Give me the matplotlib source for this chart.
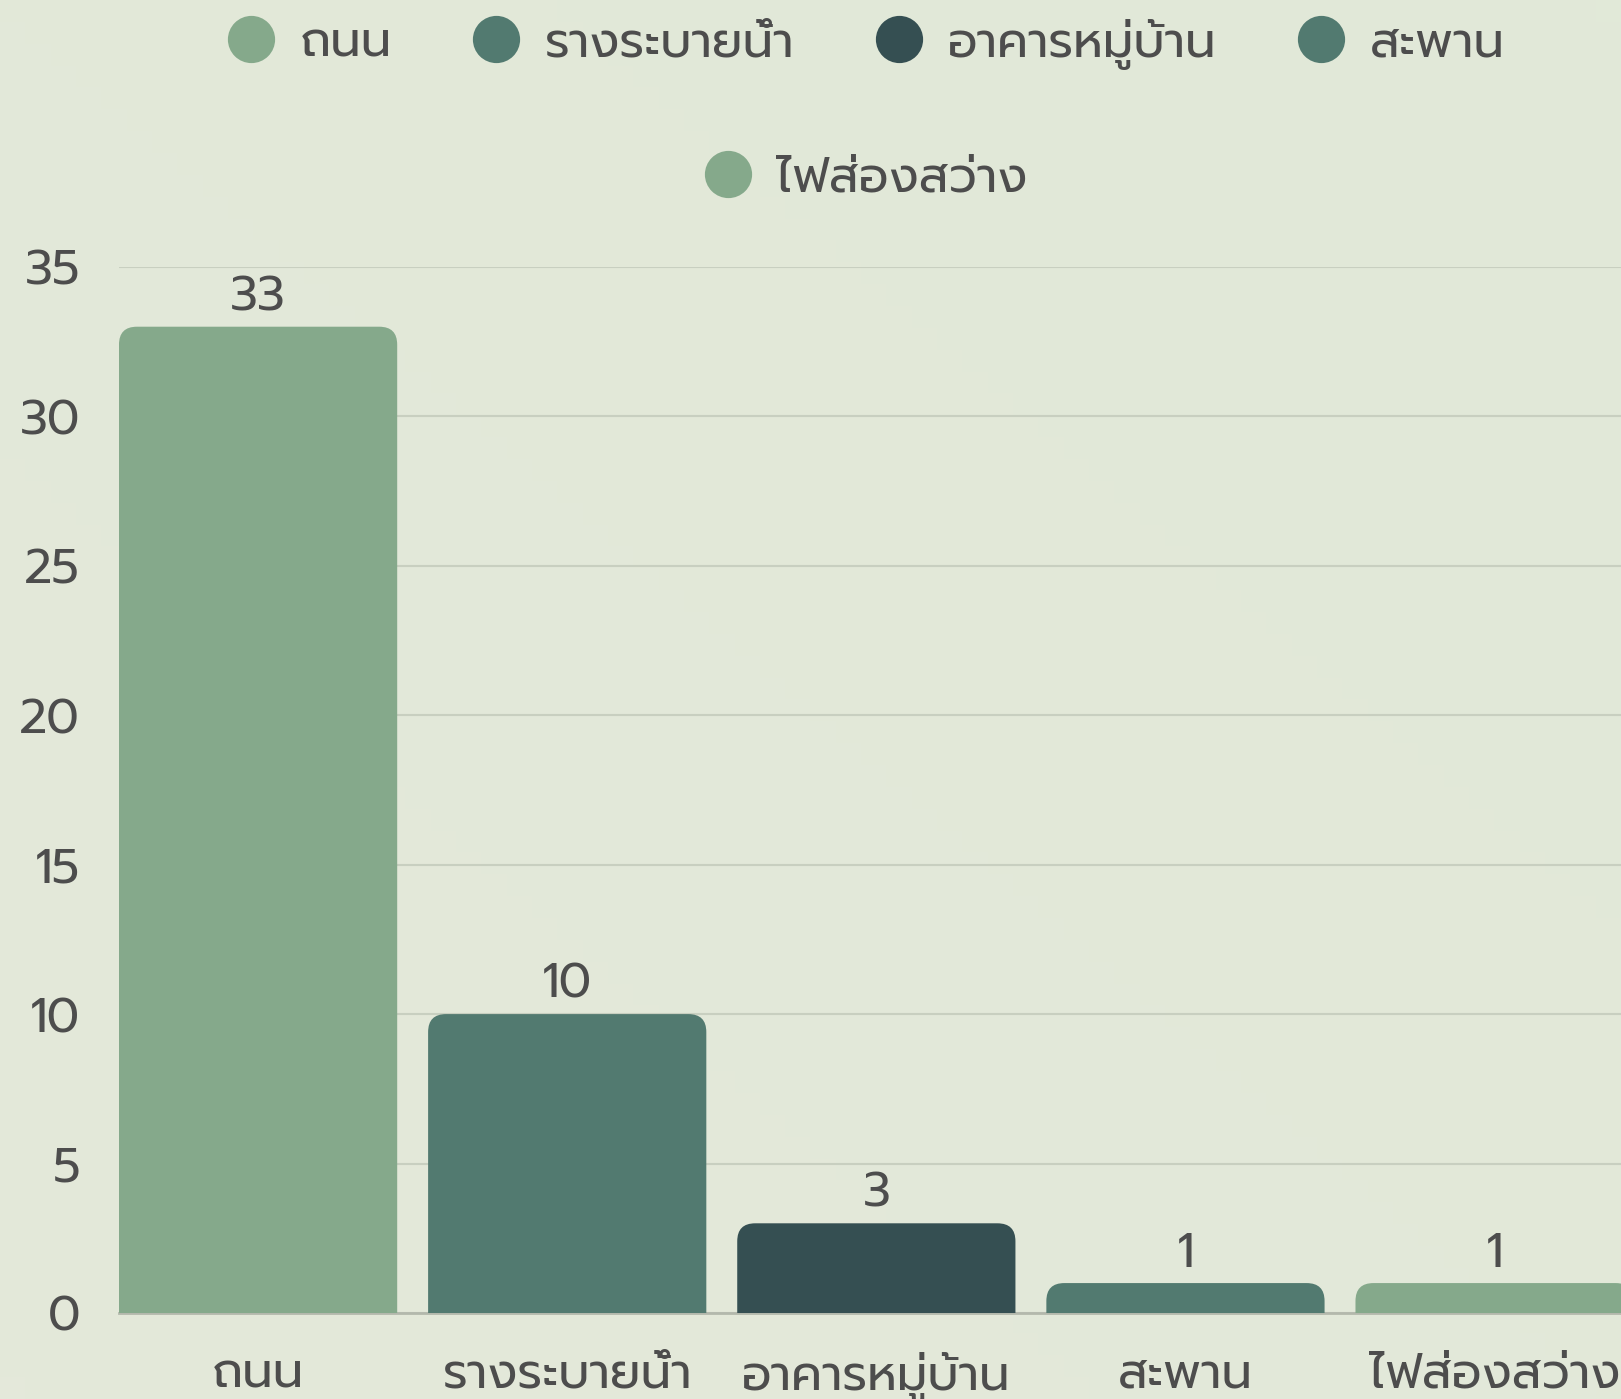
import matplotlib
matplotlib.use("Agg")
import matplotlib.pyplot as plt
import numpy as np
from matplotlib.lines import Line2D
from matplotlib.patches import FancyBboxPatch

# data
categories = ["ถนน", "รางระบายน้ำ", "อาคารหมู่บ้าน", "สะพาน", "ไฟส่องสว่าง"]
counts = [33, 10, 3, 1, 1]
bar_colors = ["#85a98b", "#527a70", "#354f52", "#527a70", "#85a98b"]
y_ticks = [0, 5, 10, 15, 20, 25, 30, 35]

TEXT = "#4d4d4d"
plt.rcParams["font.family"] = ["Prompt", "Kanit", "IBM Plex Sans Thai", "DejaVu Sans"]
plt.rcParams["font.weight"] = "normal"
FS = 35

fig = plt.figure(figsize=(16.21, 13.99), dpi=100, facecolor="#e3e9da")

# soft background gradient
bg = fig.add_axes([0, 0, 1, 1], zorder=-10)
gx, gy = np.meshgrid(np.linspace(0, 1, 64), np.linspace(0, 1, 64))
grad = 0.5 * gx + 0.5 * (1 - gy)
bg.imshow(grad, cmap=matplotlib.colors.LinearSegmentedColormap.from_list(
    "bg", ["#e4e8da", "#e1e9d8"]), aspect="auto", extent=[0, 1, 0, 1])
bg.axis("off")

ax = fig.add_axes([0.0734, 0.0615, 0.9535, 0.7477])
ax.set_facecolor("none")
x = np.arange(len(categories))
bars = ax.bar(x, counts, width=0.9, color="none", edgecolor="none")

# rounded tops: extend below zero and let the axes clip the bottom corners
rx, ry = 0.058, 0.60
for rect, c in zip(bars, bar_colors):
    patch = FancyBboxPatch(
        (rect.get_x(), -ry), rect.get_width(), rect.get_height() + ry,
        boxstyle=f"round,pad=0,rounding_size={rx}", mutation_aspect=ry / rx,
        facecolor=c, edgecolor="none", zorder=3,
    )
    ax.add_patch(patch)

ax.bar_label(bars, labels=[str(v) for v in counts], padding=4, fontsize=FS,
             color=TEXT)

ax.set_xlim(-0.45, 4.55)
ax.set_ylim(0, 35)
ax.set_yticks(y_ticks)
ax.set_xticks(x, categories)
ax.grid(axis="y", color="#c8cfc0", linewidth=1.5)
ax.set_axisbelow(True)
for side in ("top", "right", "left"):
    ax.spines[side].set_visible(False)
ax.spines["bottom"].set_color("#b3b8ac")
ax.spines["bottom"].set_linewidth(2)
ax.spines["bottom"].set_zorder(2)
ax.tick_params(axis="y", length=0, pad=28, labelsize=FS, labelcolor=TEXT)
ax.tick_params(axis="x", length=0, pad=28, labelsize=FS, labelcolor=TEXT)

handles = [Line2D([], [], marker="o", linestyle="none", markersize=34,
                  markerfacecolor=c, markeredgecolor="none") for c in bar_colors]
leg_kw = dict(frameon=False, fontsize=FS, labelcolor=TEXT, handlelength=1.0,
              handletextpad=0.5, columnspacing=1.65, borderaxespad=0)
fig.legend(handles[:4], categories[:4], ncol=4, loc="center",
           bbox_to_anchor=(0.534, 1 - 44 / 1399), **leg_kw)
fig.legend(handles[4:], categories[4:], ncol=1, loc="center",
           bbox_to_anchor=(0.534, 1 - 179 / 1399), **leg_kw)

fig.savefig("out.png", dpi=100, facecolor=fig.get_facecolor())
